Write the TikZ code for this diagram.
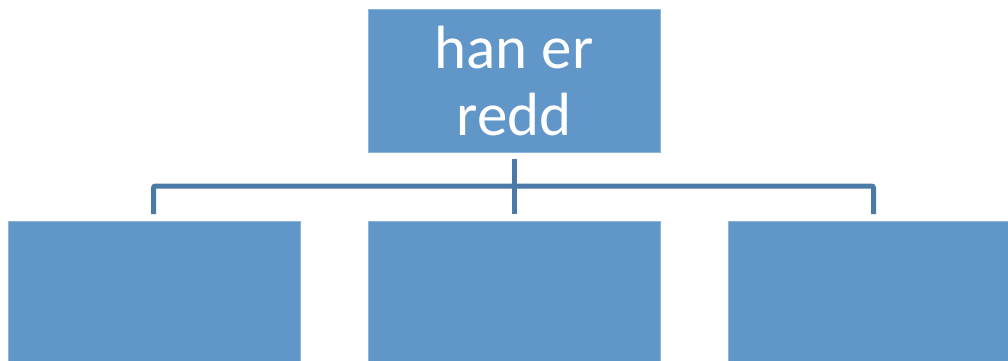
\documentclass[tikz,border=0pt]{standalone}
\usepackage{fontspec}
\setmainfont{Carlito}
\definecolor{boxfill}{RGB}{97,150,201}
\definecolor{boxedge}{RGB}{140,180,220}
\definecolor{linecol}{RGB}{76,122,168}
\begin{document}
\begin{tikzpicture}[x=1pt,y=-1pt,
  orgbox/.style={draw=boxedge,line width=0.8pt,fill=boxfill,inner sep=0pt,minimum width=292pt,minimum height=143pt},
  conn/.style={draw=linecol,line width=5pt,rounded corners=2pt}]
\useasboundingbox (0,0) rectangle (1008,360);
\node[orgbox,anchor=north west] (top) at (368,9) {};
\node[font=\fontsize{61}{67}\selectfont,text=white,align=center,anchor=base] (label) at (514,135) {han er\\redd};
\node[orgbox,anchor=north west] (b1) at (8,221) {};
\node[orgbox,anchor=north west] (b2) at (368,221) {};
\node[orgbox,anchor=north west] (b3) at (728,221) {};
\coordinate (hub) at (514,186);
\coordinate (j1) at (153.5,186);
\coordinate (j3) at (873.5,186);
\draw[conn] ([yshift=-6pt]top.south) -- ([yshift=7pt]b2.north);
\draw[conn] ([yshift=7pt]b1.north -| j1) -- (j1) -- (j3) -- ([yshift=7pt]b3.north -| j3);
\end{tikzpicture}
\end{document}
